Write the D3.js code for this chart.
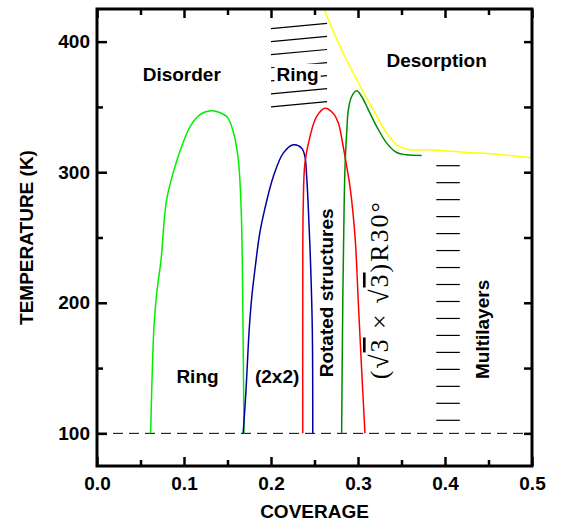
<!DOCTYPE html>
<html>
<head>
<meta charset="utf-8">
<script src="https://cdn.jsdelivr.net/npm/d3@7"></script>
<style>
  body { margin: 0; background: #fff; }
  text { font-family: "Liberation Sans", Arial, sans-serif; font-weight: bold; }
</style>
</head>
<body>
<div id="chart"></div>
<script>
// chart data

const xTicks = [0.0, 0.1, 0.2, 0.3, 0.4, 0.5]
const xMinor = [0.05, 0.15, 0.25, 0.35, 0.45]
const yTicks = [100, 200, 300, 400]
const yMinor = [150, 250, 350]

// light green: Ring / Disorder boundary
const ringCov  = [0.0617, 0.0628, 0.0655, 0.0686, 0.0736, 0.080, 0.0897, 0.0973, 0.107, 0.118, 0.131, 0.141, 0.150, 0.157, 0.162, 0.164, 0.166, 0.167, 0.168, 0.169]
const ringT    = [100, 130.7, 181.7, 207, 232.9, 278.8, 304.4, 319.7, 335, 344, 347, 345.7, 342, 330, 312, 296.7, 266, 232.9, 170, 100]

// blue: (2x2)
const twoCov = [0.168, 0.171, 0.175, 0.178, 0.182, 0.187, 0.1931, 0.2027, 0.2141, 0.2257, 0.2353, 0.239, 0.241, 0.2429, 0.2456, 0.2475, 0.248]
const twoT   = [100, 130, 180, 205, 228, 253, 272.5, 296.7, 314.6, 321, 318.4, 312, 296.7, 272.5, 227.7, 179, 100]

// red: rotated structures
const rotCov = [0.2365, 0.2365, 0.237, 0.239, 0.2448, 0.2525, 0.262, 0.2716, 0.2774, 0.283, 0.287, 0.2908, 0.2966, 0.3004, 0.3042, 0.308]
const rotT   = [100, 200, 272.5, 307, 327.3, 342.7, 349, 345, 337.6, 319.7, 304.4, 289, 250.7, 199.7, 148.6, 100]

// dark green: sqrt3 x sqrt3 R30
const r30Cov = [0.2812, 0.2825, 0.284, 0.2851, 0.287, 0.2889, 0.2927, 0.2985, 0.3042, 0.3119, 0.3215, 0.333, 0.3444, 0.356, 0.3732]
const r30T   = [100, 200, 272, 304.4, 330, 347.8, 358, 362.4, 358, 347.8, 335, 322.3, 315.1, 313.3, 312.8]

// yellow: desorption
const desCov = [0.261, 0.2793, 0.2985, 0.3176, 0.333, 0.3444, 0.356, 0.3866, 0.425, 0.4632, 0.5]
const desT   = [425, 396.3, 370.8, 347.8, 330, 321, 317.6, 317.1, 315.1, 313.6, 311]

// hatching
const ringHatchT = [414, 404, 394, 384, 374, 364, 354]
const multiHatchT = [305, 292, 279, 266, 253, 240, 227, 214, 201, 188, 175, 162, 149, 136, 123, 110]

const margin = { top: 9, right: 33, bottom: 58, left: 97 }
const width = 565 - margin.left - margin.right
const height = 524 - margin.top - margin.bottom

const svg = d3.select("#chart").append("svg")
    .attr("width", 565)
    .attr("height", 524)
    .append("g")
    .attr("transform", "translate(" + margin.left + "," + margin.top + ")")

const x = d3.scaleLinear().domain([0, 0.5]).range([0, width])
const y = d3.scaleLinear().domain([75, 425]).range([height, 0])

// clip for curves
svg.append("clipPath").attr("id", "clip")
    .append("rect").attr("width", width).attr("height", height)

// dashed 100 K line
svg.append("line")
    .attr("x1", 0).attr("x2", width)
    .attr("y1", y(100)).attr("y2", y(100))
    .style("stroke", "#000")
    .style("stroke-width", 1)
    .style("stroke-dasharray", "10 6")

// ring hatch (top)
svg.selectAll("line.ringhatch")
    .data(ringHatchT)
    .enter()
    .append("line")
    .attr("class", "ringhatch")
    .attr("x1", x(0.2)).attr("y1", d => y(d - 4))
    .attr("x2", x(0.2644)).attr("y2", d => y(d))
    .style("stroke", "#000")
    .style("stroke-width", 1.2)

// multilayer hatch
svg.selectAll("line.multihatch")
    .data(multiHatchT)
    .enter()
    .append("line")
    .attr("class", "multihatch")
    .attr("x1", x(0.39)).attr("y1", d => y(d))
    .attr("x2", x(0.417)).attr("y2", d => y(d))
    .style("stroke", "#000")
    .style("stroke-width", 1.2)

// curves
const curves = [
    { cov: ringCov, t: ringT, color: "#00ee00" },
    { cov: twoCov, t: twoT, color: "#0000a0" },
    { cov: rotCov, t: rotT, color: "#ff0000" },
    { cov: r30Cov, t: r30T, color: "#008a00" },
    { cov: desCov, t: desT, color: "#ffff00" }
]

const line = d3.line()
    .x(d => x(d[0]))
    .y(d => y(d[1]))
    .curve(d3.curveCatmullRom.alpha(0.5))

svg.append("g").attr("clip-path", "url(#clip)")
    .selectAll("path")
    .data(curves)
    .enter()
    .append("path")
    .attr("d", c => line(c.cov.map((v, i) => [v, c.t[i]])))
    .style("fill", "none")
    .style("stroke", c => c.color)
    .style("stroke-width", 1.5)

// axes, ticks pointing inward
const fs = "19px"

svg.append("g")
    .attr("transform", "translate(0," + height + ")")
    .call(d3.axisBottom(x).tickValues(xTicks).tickSizeInner(-9).tickSizeOuter(0).tickPadding(11).tickFormat(d3.format(".1f")))
    .call(g => g.select(".domain").remove())
    .call(g => g.selectAll("text").style("font-size", fs).style("fill", "#000"))
svg.append("g")
    .attr("transform", "translate(0," + height + ")")
    .call(d3.axisBottom(x).tickValues(xMinor).tickSizeInner(-6).tickSizeOuter(0).tickFormat(""))
    .call(g => g.select(".domain").remove())

svg.append("g")
    .call(d3.axisTop(x).tickValues(xTicks).tickSizeInner(-9).tickSizeOuter(0).tickFormat(""))
    .call(g => g.select(".domain").remove())
svg.append("g")
    .call(d3.axisTop(x).tickValues(xMinor).tickSizeInner(-6).tickSizeOuter(0).tickFormat(""))
    .call(g => g.select(".domain").remove())

svg.append("g")
    .call(d3.axisLeft(y).tickValues(yTicks).tickSizeInner(-10).tickSizeOuter(0).tickPadding(7))
    .call(g => g.select(".domain").remove())
    .call(g => g.selectAll("text").style("font-size", fs).style("fill", "#000"))
svg.append("g")
    .call(d3.axisLeft(y).tickValues(yMinor).tickSizeInner(-6).tickSizeOuter(0).tickFormat(""))
    .call(g => g.select(".domain").remove())

svg.append("g")
    .attr("transform", "translate(" + width + ",0)")
    .call(d3.axisRight(y).tickValues(yTicks.concat(yMinor)).tickSizeInner(-8).tickSizeOuter(0).tickFormat(""))
    .call(g => g.select(".domain").remove())

svg.selectAll(".tick line").style("stroke", "#000").style("stroke-width", 2.5)

// frame
svg.append("rect")
    .attr("width", width).attr("height", height)
    .style("fill", "none")
    .style("stroke", "#000")
    .style("stroke-width", 3)

// axis labels
svg.append("text")
    .text("COVERAGE")
    .attr("x", width / 2)
    .attr("y", height + 52)
    .style("text-anchor", "middle")
    .style("font-size", fs)

svg.append("text")
    .text("TEMPERATURE (K)")
    .attr("transform", "translate(-64," + height / 2 + ") rotate(-90)")
    .style("text-anchor", "middle")
    .style("font-size", fs)

// region labels
const labels = [
    { text: "Disorder", cov: 0.0974, t: 370, rot: false },
    { text: "Desorption", cov: 0.3904, t: 380.2, rot: false },
    { text: "Ring", cov: 0.1155, t: 138.8, rot: false },
    { text: "(2x2)", cov: 0.207, t: 138.4, rot: false },
    { text: "Rotated structures", cov: 0.2716, t: 207.6, rot: true },
    { text: "Multilayers", cov: 0.4506, t: 179.6, rot: true }
]

svg.selectAll(".label")
    .data(labels)
    .enter()
    .append("text")
    .attr("class", "label")
    .text(d => d.text)
    .attr("transform", d => "translate(" + x(d.cov) + "," + y(d.t) + ")" + (d.rot ? " rotate(-90)" : ""))
    .style("text-anchor", "middle")
    .style("font-size", fs)

// "Ring" inside hatching with white backing
const ringTop = svg.append("g")
const ringTxt = ringTop.append("text")
    .text("Ring")
    .attr("x", x(0.2305))
    .attr("y", y(370))
    .style("text-anchor", "middle")
    .style("font-size", fs)
const bb = ringTxt.node().getBBox()
ringTop.insert("rect", "text")
    .attr("x", bb.x - 2).attr("y", bb.y)
    .attr("width", bb.width + 4).attr("height", bb.height)
    .style("fill", "#fff")

// (sqrt3 x sqrt3)R30 label, serif
const r30 = svg.append("text")
    .attr("transform", "translate(" + x(0.3345) + "," + y(210) + ") rotate(-90)")
    .style("text-anchor", "middle")
    .style("font-family", "'Liberation Serif', 'Times New Roman', serif")
    .style("font-weight", "normal")
    .style("font-size", "26px")
    .style("letter-spacing", "2px")
r30.append("tspan").text("(√")
r30.append("tspan").text("3").style("text-decoration", "overline")
r30.append("tspan").text(" × √")
r30.append("tspan").text("3").style("text-decoration", "overline")
r30.append("tspan").text(")R30°")
</script>
</body>
</html>
